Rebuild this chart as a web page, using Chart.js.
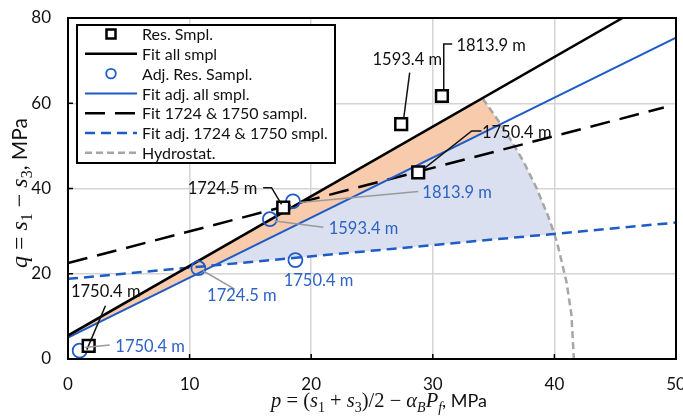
<!DOCTYPE html>
<html>
<head>
<meta charset="utf-8">
<script src="https://cdn.jsdelivr.net/npm/chart.js@4.4.1/dist/chart.umd.min.js"></script>
<style>
  html, body { margin: 0; padding: 0; background: #fff; }
  canvas { display: block; }
</style>
</head>
<body>
<canvas id="chart" width="683" height="420"></canvas>
<script>
// ---- axis ticks ----
const xTicks = [0, 10, 20, 30, 40, 50];
const yTicks = [0, 20, 40, 60, 80];

// ---- reservoir samples (p, q in MPa) ----
const resDepth = ['1750.4 m', '1724.5 m', '1750.4 m', '1593.4 m', '1813.9 m'];
const resP = [1.7, 17.7, 28.8, 27.4, 30.75];
const resQ = [3.1, 35.5, 43.8, 55.1, 61.7];

// ---- adjusted reservoir samples ----
const adjDepth = ['1750.4 m', '1724.5 m', '1593.4 m', '1813.9 m', '1750.4 m'];
const adjP = [0.96, 10.72, 16.6, 18.5, 18.7];
const adjQ = [1.95, 21.3, 32.8, 37.0, 23.2];

// ---- fitted envelopes (end points) ----
const fitAllP = [0, 45.6];
const fitAllQ = [5.5, 80];
const fitAdjAllP = [0, 50];
const fitAdjAllQ = [5.0, 75.4];
const fit1724P = [0, 49];
const fit1724Q = [22.5, 59.0];
const fitAdj1724P = [0, 50];
const fitAdj1724Q = [18.8, 32.0];

// ---- hydrostatic limit curve ----
const hydroP = [34.1, 35.0, 35.6, 36.5, 37.5, 38.5, 39.5, 40.0, 40.3, 41.0, 41.4, 41.6];
const hydroQ = [61.1, 57.5, 55.0, 51.0, 46.1, 40.3, 33.4, 29.3, 26.4, 18.0, 10.4, 0];

// ---- shaded zones (outline vertices) ----
const zoneAllP = [0, 34.1, 35.0, 35.6, 0];
const zoneAllQ = [5.5, 61.1, 57.5, 55.0, 5.0];
const zoneAdjP = [12.06, 35.6, 36.5, 37.5, 38.5, 39.5, 40.0];
const zoneAdjQ = [22.0, 55.0, 51.0, 46.1, 40.3, 33.4, 29.3];

const zip = (xs, ys) => xs.map((x, i) => ({ x, y: ys[i] }));

const BLUE = '#1F5BC6';
const BLUE_TEXT = '#2D63C4';
const GREY_LINE = '#A6A6A6';
const LEADER_GREY = '#9A9A9A';
const TICK_FONT = '17px Lato';

// depth callouts: text anchor and leader path in data units
const resNotes = [
  { i: 0, at: [3.1, 15.9], path: [[1.55, 2.2], [3.08, 12.5]] },
  { i: 1, at: [12.7, 39.9], path: [[16.05, 40.2], [16.74, 40.2], [17.56, 36.3]] },
  { i: 2, at: [36.9, 53.2], path: [[29.2, 44.5], [33.2, 53.5], [34.0, 53.5]] },
  { i: 3, at: [27.9, 70.3], path: [[28.1, 67.2], [27.6, 56.3]] },
  { i: 4, at: [34.8, 73.6], path: [[31.6, 73.9], [30.9, 73.9], [30.9, 62.9]] }
];
const adjNotes = [
  { i: 0, at: [6.75, 2.95], path: [[1.37, 2.7], [3.43, 3.3]] },
  { i: 1, at: [14.3, 14.8], path: [[11.1, 20.7], [13.7, 16.4]] },
  { i: 2, at: [24.3, 30.5], path: [[17.0, 32.4], [21.0, 30.9]] },
  { i: 3, at: [32.0, 39.1], path: [[19.1, 36.7], [28.8, 39.3]] },
  { i: 4, at: [20.6, 18.4], path: [] }
];

const LABEL_FONT = '16.5px Lato';

const notesPlugin = {
  id: 'depthNotes',
  afterDatasetsDraw(chart) {
    const { ctx, scales: { x, y } } = chart;
    const px = (p) => x.getPixelForValue(p);
    const py = (q) => y.getPixelForValue(q);
    const draw = (notes, names, textColor, leaderColor) => {
      notes.forEach(n => {
        if (n.path.length) {
          ctx.save();
          ctx.strokeStyle = leaderColor;
          ctx.lineWidth = 1.5;
          ctx.beginPath();
          n.path.forEach((pt, k) => {
            if (k === 0) ctx.moveTo(px(pt[0]), py(pt[1]));
            else ctx.lineTo(px(pt[0]), py(pt[1]));
          });
          ctx.stroke();
          ctx.restore();
        }
        ctx.save();
        ctx.font = LABEL_FONT;
        ctx.fillStyle = textColor;
        ctx.textAlign = 'center';
        ctx.textBaseline = 'middle';
        ctx.fillText(names[n.i], px(n.at[0]), py(n.at[1]));
        ctx.restore();
      });
    };
    draw(resNotes, resDepth, '#111', '#111');
    draw(adjNotes, adjDepth, BLUE_TEXT, LEADER_GREY);
  }
};

// plot frame, inward tick marks and x tick labels
const framePlugin = {
  id: 'frame',
  afterDatasetsDraw(chart) {
    const { ctx, chartArea: a, scales: { x, y } } = chart;
    ctx.save();
    ctx.strokeStyle = '#000';
    ctx.lineWidth = 1.5;
    ctx.beginPath();
    xTicks.forEach(v => {
      const X = x.getPixelForValue(v);
      ctx.moveTo(X, a.bottom); ctx.lineTo(X, a.bottom - 5);
    });
    yTicks.forEach(v => {
      const Y = y.getPixelForValue(v);
      ctx.moveTo(a.left, Y); ctx.lineTo(a.left + 5, Y);
    });
    ctx.stroke();
    ctx.lineWidth = 2;
    ctx.strokeRect(a.left, a.top, a.right - a.left, a.bottom - a.top);
    ctx.font = TICK_FONT;
    ctx.fillStyle = '#111';
    ctx.textAlign = 'center';
    ctx.textBaseline = 'middle';
    xTicks.forEach(v => ctx.fillText(String(v), x.getPixelForValue(v), a.bottom + 26));
    ctx.restore();
  }
};

// legend box inside the plot
const legendPlugin = {
  id: 'boxLegend',
  afterDraw(chart) {
    const { ctx, chartArea: a } = chart;
    const items = chart.data.datasets.filter(d => d.inLegend);
    const left = a.left + 9, top = a.top + 7, w = 258, h = 138;
    ctx.save();
    ctx.fillStyle = '#fff';
    ctx.fillRect(left, top, w, h);
    ctx.strokeStyle = '#000';
    ctx.lineWidth = 2;
    ctx.strokeRect(left, top, w, h);
    const rowH = 19.8;
    const sx0 = left + 8, sx1 = left + 60, tx = left + 65;
    items.forEach((d, k) => {
      const cy = top + 9 + k * rowH;
      ctx.save();
      if (d.showLine) {
        ctx.strokeStyle = d.borderColor;
        ctx.lineWidth = d.borderWidth;
        ctx.setLineDash(d.borderDash || []);
        ctx.beginPath();
        ctx.moveTo(sx0, cy); ctx.lineTo(sx1, cy);
        ctx.stroke();
      } else if (d.pointStyle === 'rect') {
        ctx.strokeStyle = d.borderColor;
        ctx.lineWidth = 2.5;
        ctx.fillStyle = '#fff';
        ctx.fillRect((sx0 + sx1) / 2 - 4.5, cy - 4.5, 9, 9);
        ctx.strokeRect((sx0 + sx1) / 2 - 4.5, cy - 4.5, 9, 9);
      } else {
        ctx.strokeStyle = d.borderColor;
        ctx.lineWidth = 1.8;
        ctx.beginPath();
        ctx.arc((sx0 + sx1) / 2, cy, 4.8, 0, Math.PI * 2);
        ctx.stroke();
      }
      ctx.restore();
      ctx.font = '16px Lato';
      ctx.fillStyle = '#111';
      ctx.textAlign = 'left';
      ctx.textBaseline = 'middle';
      ctx.fillText(d.label, tx, cy + 1);
    });
    ctx.restore();
  }
};

// axis titles with subscripts
function drawRich(ctx, parts, cx, cy, angle) {
  ctx.save();
  ctx.translate(cx, cy);
  ctx.rotate(angle);
  let total = 0;
  parts.forEach(p => { ctx.font = p.f; p.w = ctx.measureText(p.t).width; total += p.w; });
  let xpos = -total / 2;
  ctx.fillStyle = '#111';
  ctx.textBaseline = 'alphabetic';
  ctx.textAlign = 'left';
  parts.forEach(p => {
    ctx.font = p.f;
    ctx.fillText(p.t, xpos, 7 + (p.dy || 0));
    xpos += p.w;
  });
  ctx.restore();
}
const titlesPlugin = {
  id: 'axisTitles',
  afterDraw(chart) {
    const { ctx } = chart;
    const fonts = (s) => ({
      it: `italic ${s}px "Liberation Serif"`,
      rm: `${s}px "Liberation Serif"`,
      sb: `${Math.round(s * 0.68)}px "Liberation Serif"`,
      sbi: `italic ${Math.round(s * 0.68)}px "Liberation Serif"`,
      sans: `${Math.round(s * 0.88)}px Lato`
    });
    const fx = fonts(20.5);
    const xTitle = [
      { t: 'p', f: fx.it }, { t: ' = (', f: fx.rm }, { t: 's', f: fx.it }, { t: '1', f: fx.sb, dy: 5 },
      { t: ' + ', f: fx.rm }, { t: 's', f: fx.it }, { t: '3', f: fx.sb, dy: 5 }, { t: ')/2 − ', f: fx.rm },
      { t: 'α', f: fx.it }, { t: 'B', f: fx.sbi, dy: 5 }, { t: 'P', f: fx.it }, { t: 'f', f: fx.sbi, dy: 5 },
      { t: ', MPa', f: fx.sans }
    ];
    const fy = fonts(24);
    const yTitle = [
      { t: 'q', f: fy.it }, { t: ' = ', f: fy.rm }, { t: 's', f: fy.it }, { t: '1', f: fy.sb, dy: 5 },
      { t: ' − ', f: fy.rm }, { t: 's', f: fy.it }, { t: '3', f: fy.sb, dy: 5 }, { t: ', MPa', f: fy.sans }
    ];
    drawRich(ctx, xTitle, 379, 400, 0);
    drawRich(ctx, yTitle, 20, 193, -Math.PI / 2);
  }
};

const lineDs = (label, xs, ys, color, width, dash, extra) => Object.assign({
  label, data: zip(xs, ys), showLine: true, borderColor: color, borderWidth: width,
  borderDash: dash, pointRadius: 0, pointHoverRadius: 0, fill: false, order: 2, inLegend: true
}, extra || {});

const zoneDs = (xs, ys, color) => ({
  label: '', data: zip(xs, ys), showLine: true, borderWidth: 0, borderColor: 'rgba(0,0,0,0)',
  backgroundColor: color, fill: 'shape', pointRadius: 0, pointHoverRadius: 0, order: 10, inLegend: false
});

new Chart(document.getElementById('chart'), {
  type: 'scatter',
  data: {
    datasets: [
      {
        label: 'Res. Smpl.', data: zip(resP, resQ), pointStyle: 'rect', pointRadius: 8.3,
        borderColor: '#000', backgroundColor: '#fff', borderWidth: 2.5, order: 0, inLegend: true
      },
      lineDs('Fit all smpl', fitAllP, fitAllQ, '#000', 2.5, []),
      {
        label: 'Adj. Res. Sampl.', data: zip(adjP, adjQ), pointStyle: 'circle', pointRadius: 7,
        borderColor: BLUE, backgroundColor: 'rgba(0,0,0,0)', borderWidth: 1.8, order: 1, inLegend: true
      },
      lineDs('Fit adj. all smpl.', fitAdjAllP, fitAdjAllQ, BLUE, 2, []),
      lineDs('Fit 1724 & 1750 sampl.', fit1724P, fit1724Q, '#000', 2.5, [20, 10]),
      lineDs('Fit adj. 1724 & 1750 smpl.', fitAdj1724P, fitAdj1724Q, BLUE, 2.5, [10, 6]),
      lineDs('Hydrostat.', hydroP, hydroQ, GREY_LINE, 2.5, [7, 4]),
      zoneDs(zoneAllP, zoneAllQ, '#F8CBAD'),
      zoneDs(zoneAdjP, zoneAdjQ, '#DAE0F0')
    ]
  },
  options: {
    responsive: false,
    animation: false,
    devicePixelRatio: 1,
    layout: { autoPadding: false, padding: { left: 0, right: 7, top: 18, bottom: 0 } },
    plugins: { legend: { display: false }, tooltip: { enabled: false } },
    scales: {
      x: {
        type: 'linear', min: 0, max: 50,
        afterBuildTicks: (s) => { s.ticks = xTicks.map(v => ({ value: v })); },
        afterFit: (s) => { s.height = 61; },
        grid: { color: '#D4D4D4', lineWidth: 1.5, drawTicks: false },
        border: { display: false },
        ticks: { display: false }
      },
      y: {
        type: 'linear', min: 0, max: 80,
        afterBuildTicks: (s) => { s.ticks = yTicks.map(v => ({ value: v })); },
        afterFit: (s) => { s.width = 68; s.paddingTop = 0; s.paddingBottom = 0; },
        grid: { color: '#D4D4D4', lineWidth: 1.5, drawTicks: false },
        border: { display: false },
        ticks: { font: { family: 'Lato', size: 17 }, color: '#111', padding: 17 }
      }
    }
  },
  plugins: [framePlugin, notesPlugin, legendPlugin, titlesPlugin]
});
</script>
</body>
</html>
